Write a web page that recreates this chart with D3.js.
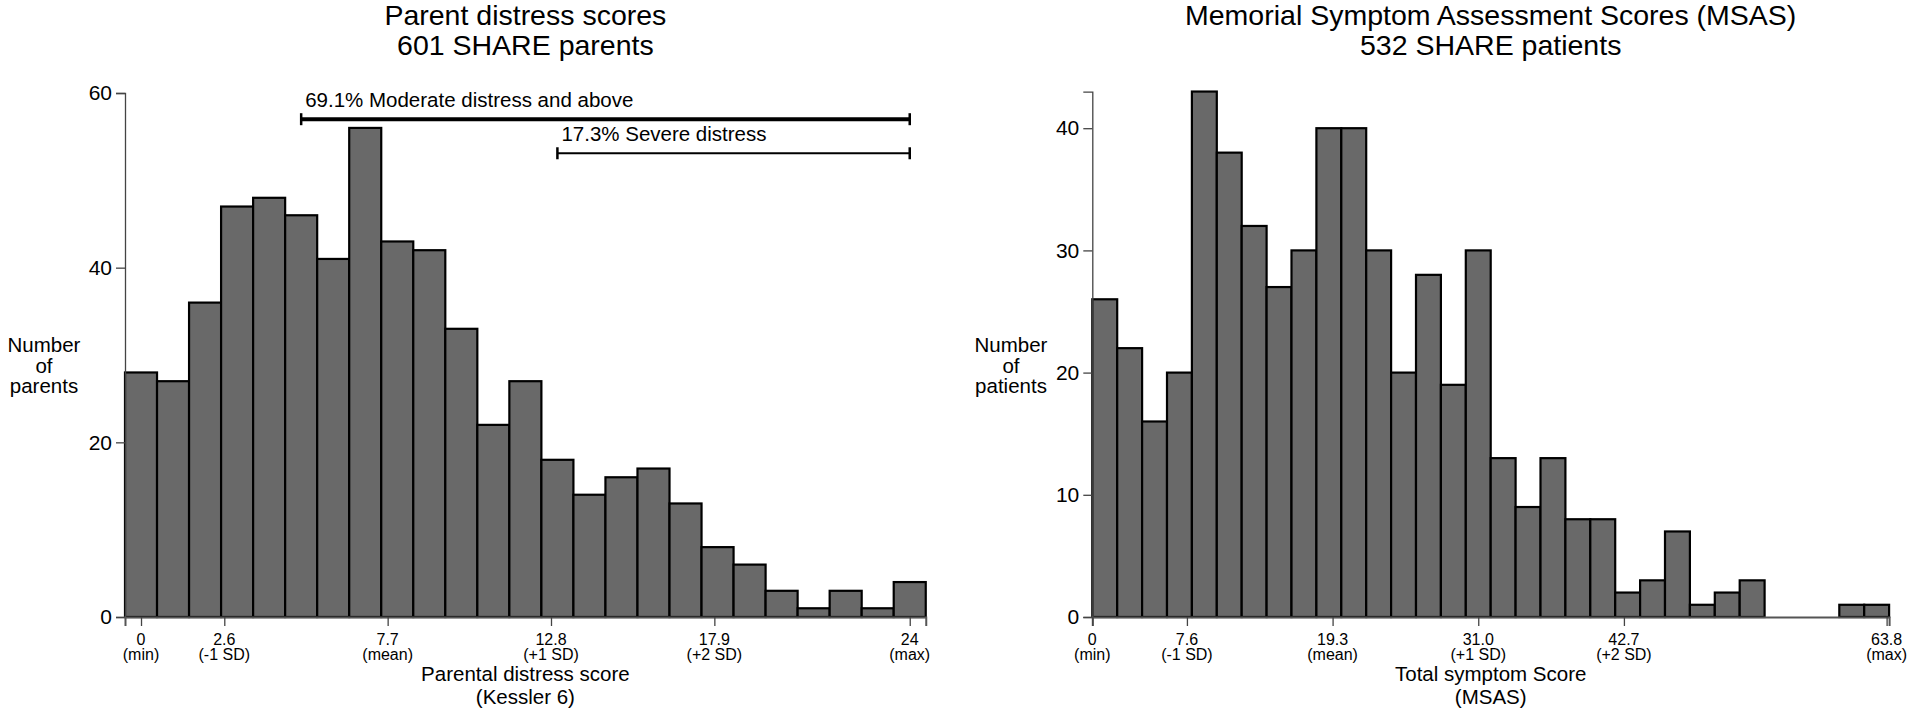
<!DOCTYPE html>
<html><head><meta charset="utf-8">
<script src="https://cdn.jsdelivr.net/npm/d3@7"></script>
<style>
body{margin:0;background:#fff;}
text{font-family:"Liberation Sans",Arial,Helvetica,sans-serif;fill:#000;}
</style>
</head><body>
<svg id="c" width="1920" height="710"></svg>
<script>
// ---------- data ----------
const parentScores = [0,1,2,3,4,5,6,7,8,9,10,11,12,13,14,15,16,17,18,19,20,21,22,23,24];
const parentCounts = [28,27,36,47,48,46,41,56,43,42,33,22,27,18,14,16,17,13,8,6,3,1,3,1,4];
const parentXTicks = [0,2.6,7.7,12.8,17.9,24];
const parentXTickText = ["0","2.6","7.7","12.8","17.9","24"];
const parentXTickSub = ["(min)","(-1 SD)","(mean)","(+1 SD)","(+2 SD)","(max)"];
const parentYTicks = [0,20,40,60];
const parentTitle = ["Parent distress scores","601 SHARE parents"];
const parentXTitle = ["Parental distress score","(Kessler 6)"];
const parentYTitle = ["Number","of","parents"];
const annoLabels = ["69.1% Moderate distress and above","17.3% Severe distress"];
const annoFrom = [5,13];
const annoTo = [24,24];

const msasBinStarts = [0,2,4,6,8,10,12,14,16,18,20,22,24,26,28,30,32,34,36,38,40,42,44,46,48,50,52,54,56,58,60,62];
const msasBinWidth = 2;
const msasCounts = [26,22,16,20,43,38,32,27,30,40,40,30,20,28,19,30,13,9,13,8,8,2,3,7,1,2,3,0,0,0,1,1];
const msasXTicks = [0,7.6,19.3,31.0,42.7,63.8];
const msasXTickText = ["0","7.6","19.3","31.0","42.7","63.8"];
const msasXTickSub = ["(min)","(-1 SD)","(mean)","(+1 SD)","(+2 SD)","(max)"];
const msasYTicks = [0,10,20,30,40];
const msasTitle = ["Memorial Symptom Assessment Scores (MSAS)","532 SHARE patients"];
const msasXTitle = ["Total symptom Score","(MSAS)"];
const msasYTitle = ["Number","of","patients"];

// ---------- drawing ----------
const svg = d3.select("#c");
const BAR_FILL = "#696969";

function panel(o){
  const g = svg.append("g");
  const x = o.x, y = o.y;
  // bars
  g.selectAll("rect.bar").data(o.bars).join("rect")
    .attr("x", d => x(d.x0))
    .attr("width", d => x(d.x1) - x(d.x0))
    .attr("y", d => y(d.v))
    .attr("height", d => y(0) - y(d.v))
    .attr("fill", BAR_FILL)
    .attr("stroke", "#000")
    .attr("stroke-width", 2.2)
    .attr("display", d => d.v > 0 ? null : "none");

  // y axis
  const ya = g.append("g").attr("transform", `translate(${x.range()[0]},0)`)
    .call(d3.axisLeft(y).tickValues(o.yTicks).tickSize(9).tickPadding(4).tickFormat(d3.format("d")));
  ya.select(".domain").attr("stroke", "#444").attr("stroke-width", 1.3);
  ya.selectAll(".tick line").attr("stroke", "#444").attr("stroke-width", 1.3);
  ya.selectAll(".tick text").attr("font-size", 21).attr("fill", "#000")
    .style("font-family", '"Liberation Sans",Arial,sans-serif');

  // x axis
  const xa = g.append("g").attr("transform", `translate(0,${y(0)})`)
    .call(d3.axisBottom(x).tickValues(o.xTicks).tickSize(9).tickFormat(""));
  xa.select(".domain").attr("stroke", "#555").attr("stroke-width", 2);
  xa.selectAll(".tick line").attr("stroke", "#444").attr("stroke-width", 1.3);
  o.xTicks.forEach((t, i) => {
    const tx = g.append("text").attr("x", x(t)).attr("text-anchor", "middle").attr("font-size", 16);
    tx.append("tspan").attr("x", x(t)).attr("y", y(0) + 28).text(o.xTickText[i]);
    tx.append("tspan").attr("x", x(t)).attr("y", y(0) + 43).text(o.xTickSub[i]);
  });

  const cx = (x.range()[0] + x.range()[1]) / 2;
  // titles
  o.title.forEach((t, i) => {
    g.append("text").attr("x", cx).attr("y", 25 + i * 29.5).attr("text-anchor", "middle")
      .attr("font-size", 28.5).text(t);
  });
  o.xTitle.forEach((t, i) => {
    g.append("text").attr("x", cx).attr("y", 681 + i * 22.5).attr("text-anchor", "middle")
      .attr("font-size", 20.5).text(t);
  });
  o.yTitle.forEach((t, i) => {
    g.append("text").attr("x", o.yTitleX).attr("y", 352 + i * 20.5).attr("text-anchor", "middle")
      .attr("font-size", 20.5).text(t);
  });
  return g;
}

// left panel
const xL = d3.scaleLinear().domain([-0.5, 24.5]).range([125, 925.75]);
const yL = d3.scaleLinear().domain([0, 60]).range([617, 93]);
const gL = panel({
  x: xL, y: yL,
  bars: parentScores.map((s, i) => ({x0: s - 0.5, x1: s + 0.5, v: parentCounts[i]})),
  yTicks: parentYTicks, xTicks: parentXTicks, xTickText: parentXTickText, xTickSub: parentXTickSub,
  title: parentTitle, xTitle: parentXTitle, yTitle: parentYTitle, yTitleX: 44
});
// annotations (range bars)
const annoY = [yL(57), yL(53.1)];
const annoW = [4, 2];
annoLabels.forEach((lab, i) => {
  const a = gL.append("g");
  const x0 = xL(annoFrom[i]), x1 = xL(annoTo[i]);
  a.append("line").attr("x1", x0).attr("x2", x1).attr("y1", annoY[i]).attr("y2", annoY[i])
    .attr("stroke", "#000").attr("stroke-width", annoW[i]);
  [x0, x1].forEach(xx => a.append("line").attr("x1", xx).attr("x2", xx)
    .attr("y1", annoY[i] - 6).attr("y2", annoY[i] + 6).attr("stroke", "#000").attr("stroke-width", 2.5));
  a.append("text").attr("x", x0 + 4).attr("y", annoY[i] - 12).attr("font-size", 20.5).text(lab);
});

// right panel
const xR = d3.scaleLinear().domain([0, 64]).range([1092.3, 1092.3 + 64 * 12.45]);
const yR = d3.scaleLinear().domain([0, d3.max(msasCounts)]).range([617, 617 - 43 * 12.22]);
panel({
  x: xR, y: yR,
  bars: msasBinStarts.map((s, i) => ({x0: s, x1: s + msasBinWidth, v: msasCounts[i]})),
  yTicks: msasYTicks, xTicks: msasXTicks, xTickText: msasXTickText, xTickSub: msasXTickSub,
  title: msasTitle, xTitle: msasXTitle, yTitle: msasYTitle, yTitleX: 1011
});
</script>
</body></html>
